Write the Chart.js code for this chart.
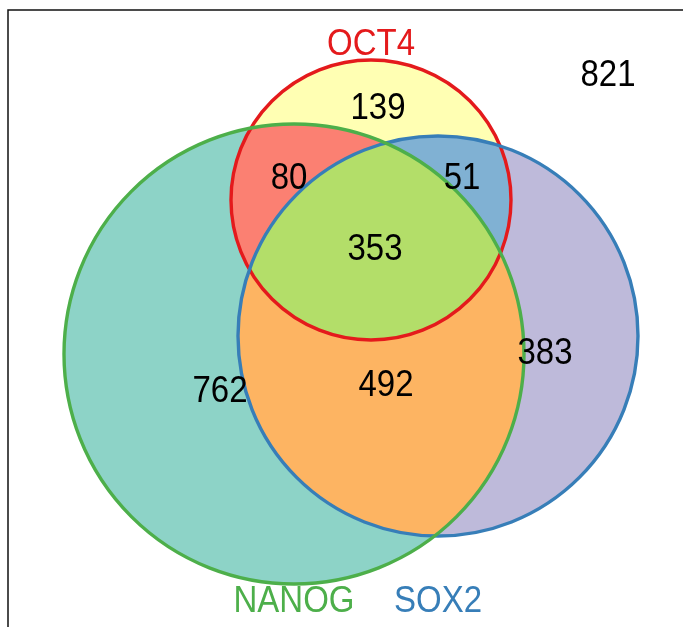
<!DOCTYPE html>
<html>
<head>
<meta charset="utf-8">
<script src="https://cdn.jsdelivr.net/npm/chart.js@4.4.1/dist/chart.umd.min.js"></script>
<style>
  html,body{margin:0;padding:0;background:#fff;overflow:hidden;}
  #wrap{width:683px;height:627px;}
</style>
</head>
<body>
<div id="wrap"><canvas id="venn" width="683" height="627"></canvas></div>
<script>
// --- Data ---
const setNames = ['OCT4', 'NANOG', 'SOX2'];
const regionNames = ['OCT4 only', 'NANOG only', 'SOX2 only', 'OCT4+NANOG', 'OCT4+SOX2', 'NANOG+SOX2', 'OCT4+NANOG+SOX2', 'none'];
const regionCounts = [139, 762, 383, 80, 51, 492, 353, 821];

// --- Layout (scale units = pixels of the 683x627 frame) ---
const circles = [
  {cx:371, cy:200, r:140},   // OCT4
  {cx:294, cy:354, r:230},   // NANOG
  {cx:438, cy:336, r:200}    // SOX2
];
const setLabelPos = [[371,45],[294,602],[438,602]];
const regionLabelPos = [[378,109],[220,392],[545,354],[289,179],[462,179],[386,386],[375,250],[608,76]];

// --- Styles ---
const strokeColors = ['#E41A1C', '#4DAF4A', '#377EB8'];
const onlyColors = ['#FFFFB3', '#8DD3C7', '#BEBADA'];
const pairColors = {ab:'#FB8072', ac:'#80B1D3', bc:'#FDB462'};
const tripleColor = '#B3DE69';
const FONT = '33px "Liberation Sans", Arial, sans-serif';

// text slightly taller than wide, as in the reference
function tallText(ctx, s, x, y){
  ctx.save(); ctx.translate(x, y); ctx.scale(1, 1.1); ctx.fillText(s, 0, 0); ctx.restore();
}

const vennPlugin = {
  id:'venn',
  beforeDatasetsDraw(chart){
    const ctx = chart.ctx, xs = chart.scales.x, ys = chart.scales.y;
    const px = v => xs.getPixelForValue(v), py = v => ys.getPixelForValue(v);
    const rad = c => xs.getPixelForValue(c.cx + c.r) - xs.getPixelForValue(c.cx);
    const path = c => { ctx.beginPath(); ctx.arc(px(c.cx), py(c.cy), rad(c), 0, Math.PI*2); };
    const fill = (i, color) => { path(circles[i]); ctx.fillStyle = color; ctx.fill(); };
    const clip = i => { path(circles[i]); ctx.clip(); };

    ctx.save();
    // frame
    ctx.strokeStyle = '#111'; ctx.lineWidth = 1.5;
    ctx.beginPath(); ctx.moveTo(8, chart.height); ctx.lineTo(8, 10); ctx.lineTo(chart.width, 10); ctx.stroke();

    // single regions
    onlyColors.forEach((c,i) => fill(i, c));
    // pairs
    ctx.save(); clip(0); fill(1, pairColors.ab); ctx.restore();
    ctx.save(); clip(0); fill(2, pairColors.ac); ctx.restore();
    ctx.save(); clip(1); fill(2, pairColors.bc); ctx.restore();
    // triple
    ctx.save(); clip(0); clip(1); fill(2, tripleColor); ctx.restore();

    // outlines: red, blue, green
    ctx.lineWidth = 3.4;
    [0, 2, 1].forEach(i => { path(circles[i]); ctx.strokeStyle = strokeColors[i]; ctx.stroke(); });

    // set names
    ctx.font = FONT; ctx.textAlign = 'center'; ctx.textBaseline = 'middle';
    setNames.forEach((n,i) => { ctx.fillStyle = strokeColors[i]; tallText(ctx, n, px(setLabelPos[i][0]), py(setLabelPos[i][1])); });
    ctx.restore();
  },
  afterDatasetsDraw(chart){
    const ctx = chart.ctx;
    const meta = chart.getDatasetMeta(0);
    ctx.save();
    ctx.font = FONT; ctx.textAlign = 'center'; ctx.textBaseline = 'middle'; ctx.fillStyle = '#000';
    meta.data.forEach((pt, i) => tallText(ctx, String(regionCounts[i]), pt.x, pt.y));
    ctx.restore();
  }
};

new Chart(document.getElementById('venn'), {
  type:'scatter',
  data:{
    datasets:[{
      label:'counts',
      data: regionCounts.map((v,i) => ({x:regionLabelPos[i][0], y:regionLabelPos[i][1], v, name:regionNames[i]})),
      pointRadius:0, pointHoverRadius:0
    }]
  },
  options:{
    responsive:false, maintainAspectRatio:false, animation:false,
    layout:{padding:0},
    plugins:{legend:{display:false}, tooltip:{enabled:false}},
    scales:{
      x:{type:'linear', min:0, max:683, display:false},
      y:{type:'linear', min:0, max:627, reverse:true, display:false}
    }
  },
  plugins:[vennPlugin]
});
</script>
</body>
</html>
